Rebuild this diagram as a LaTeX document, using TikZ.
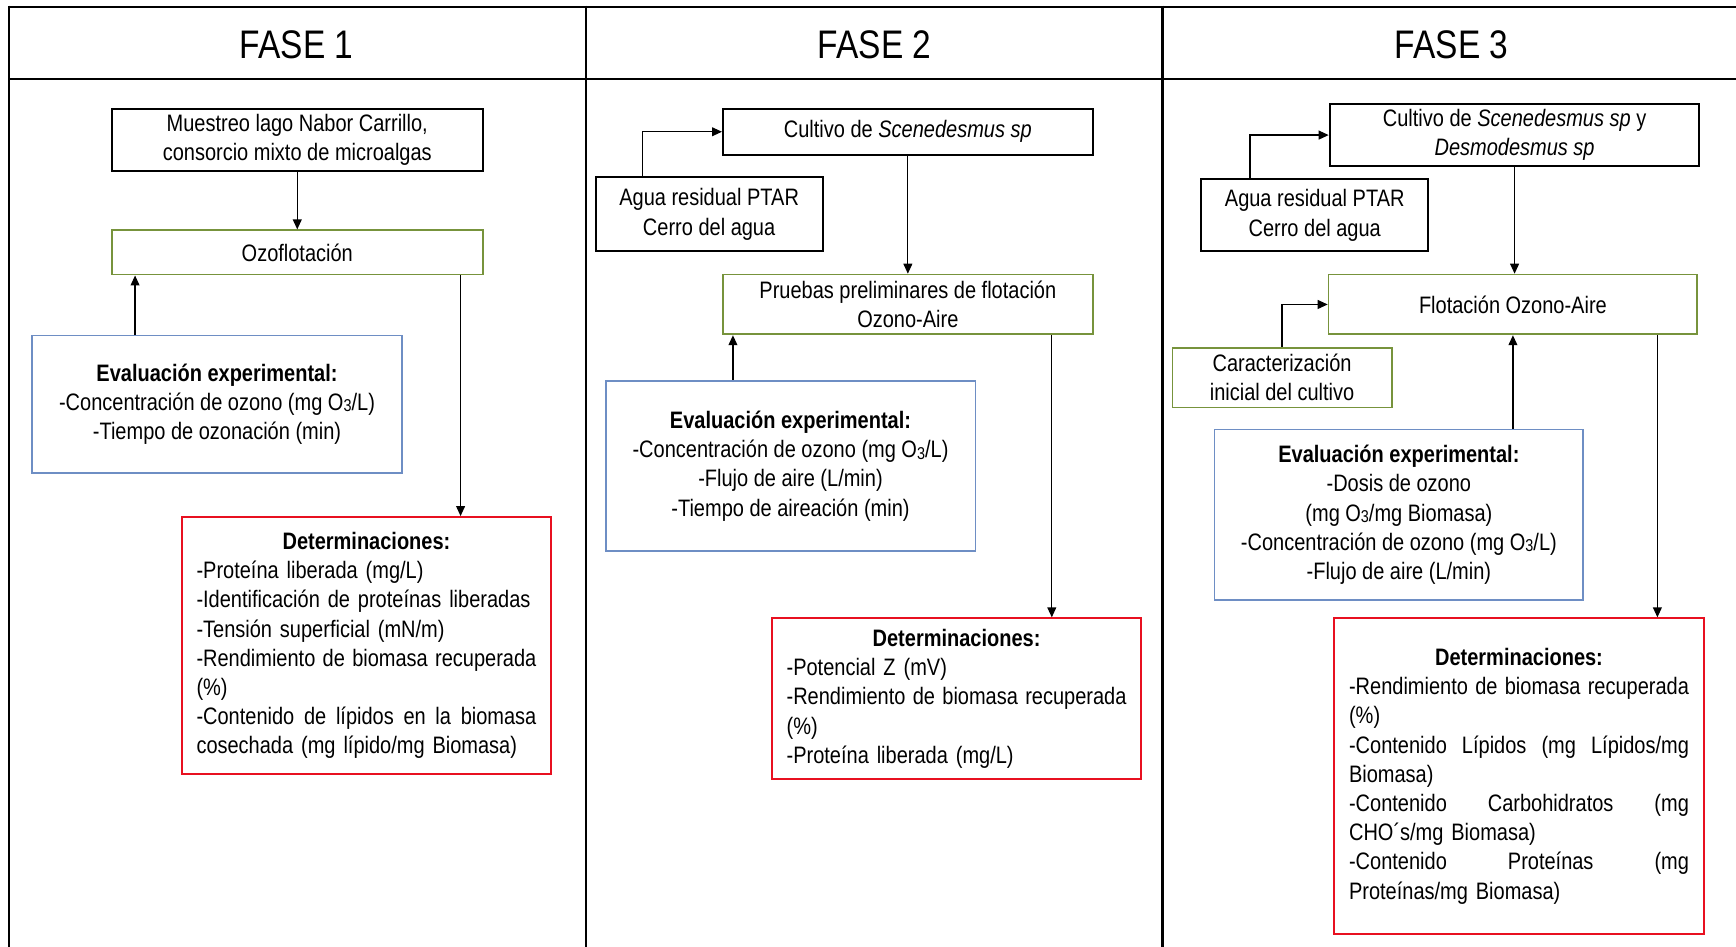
\documentclass[tikz,border=0pt]{standalone}
\usepackage{fontspec}
\setmainfont{Liberation Sans}[FakeStretch=0.84]
\usetikzlibrary{arrows.meta}

\definecolor{boxgreen}{RGB}{119,147,60}
\definecolor{boxblue}{RGB}{110,142,196}
\definecolor{boxred}{RGB}{232,16,32}

% ozone formula with a small, slightly lowered 3
\newcommand\Othree{O\raisebox{-0.06em}{\scalebox{0.72}{3}}}
% a line spread to the full text width (words separated by \hfill) / a centred line
\newcommand\jline[1]{\leavevmode\hbox to \linewidth{#1}}
\newcommand\ctrline[1]{\makebox[\linewidth][c]{#1}}

\begin{document}
\begin{tikzpicture}[x=1pt,y=-1pt,
  every node/.style={font=\fontsize{21.5}{26.4}\selectfont, inner sep=0pt},
  frame/.style={line width=2pt, black},
  head/.style={font=\fontsize{36}{40}\selectfont},
  blackbox/.style={draw=black, line width=1.8pt, align=center, fill=white},
  greenbox/.style={draw=boxgreen, line width=1.6pt, align=center, fill=white},
  bluebox/.style={draw=boxblue, line width=1.6pt, align=center, fill=white},
  redbox/.style={draw=boxred, line width=1.8pt, align=left, fill=white},
  arr/.style={line width=1.1pt, -{Triangle[length=9pt,width=8pt]}}
]
\useasboundingbox (0,0) rectangle (1568,855);
\fill[white] (0,0) rectangle (1568,855);

% table grid
\draw[frame] (8,6) -- (1570,6);
\draw[frame] (8,71) -- (1570,71);
\draw[frame] (8,5) -- (8,860);
\draw[frame] (529,5) -- (529,860);
\draw[frame] (1050,5) -- (1050,860);

\node[head] (h1) at (268,40) {FASE 1};
\node[head] (h2) at (790,40) {FASE 2};
\node[head] (h3) at (1311,40) {FASE 3};

% ---------------- FASE 1 ----------------
\node[blackbox, minimum width=335pt, minimum height=56pt] (m1) at (268.5,126)
  {Muestreo lago Nabor Carrillo,\\consorcio mixto de microalgas};
\node[greenbox, minimum width=335pt, minimum height=40pt] (oz1) at (268.5,228)
  {Ozoflotación};
\node[bluebox, minimum width=334pt, minimum height=124pt] (ev1) at (196,365)
  {\textbf{Evaluación experimental:}\\
   -Concentración de ozono (mg \Othree/L)\\
   -Tiempo de ozonación (min)};
\node[redbox, minimum width=334pt, minimum height=232pt, text width=307pt] (det1) at (331,583)
  {\ctrline{\bfseries Determinaciones:}\\
   -Proteína liberada (mg/L)\\
   -Identificación de proteínas liberadas\\
   -Tensión superficial (mN/m)\\
   \jline{-Rendimiento\hfill de\hfill biomasa\hfill recuperada}\\
   (\%)\\
   \jline{-Contenido\hfill de\hfill lípidos\hfill en\hfill la\hfill biomasa}\\
   cosechada (mg lípido/mg Biomasa)};

\draw[arr] (m1.south) -- (oz1.north);
\draw[arr] ([xshift=-74pt]ev1.north) -- ([xshift=-74pt]ev1.north |- oz1.south);
\draw[arr] ([xshift=85pt]det1.north |- oz1.south) -- ([xshift=85pt]det1.north);

% ---------------- FASE 2 ----------------
\node[blackbox, minimum width=334pt, minimum height=42pt] (cu2) at (820,119)
  {Cultivo de \textit{Scenedesmus sp}};
\node[blackbox, minimum width=205pt, minimum height=67pt] (ag2) at (640.5,193.5)
  {Agua residual PTAR\\Cerro del agua};
\node[greenbox, minimum width=334pt, minimum height=54pt] (pr2) at (820,275)
  {Pruebas preliminares de flotación\\Ozono-Aire};
\node[bluebox, minimum width=334pt, minimum height=154pt] (ev2) at (714,421)
  {\textbf{Evaluación experimental:}\\
   -Concentración de ozono (mg \Othree/L)\\
   -Flujo de aire (L/min)\\
   -Tiempo de aireación (min)};
\node[redbox, minimum width=334pt, minimum height=145pt, text width=307pt] (det2) at (864,631)
  {\ctrline{\bfseries Determinaciones:}\\
   -Potencial Z (mV)\\
   \jline{-Rendimiento\hfill de\hfill biomasa\hfill recuperada}\\
   (\%)\\
   -Proteína liberada (mg/L)};

\draw[arr] ([xshift=-60.5pt]ag2.north) |- (cu2.west);
\draw[arr] (cu2.south) -- (pr2.north);
\draw[arr] ([xshift=-52pt]ev2.north) -- ([xshift=-52pt]ev2.north |- pr2.south);
\draw[arr] ([xshift=86pt]det2.north |- pr2.south) -- ([xshift=86pt]det2.north);

% ---------------- FASE 3 ----------------
\node[blackbox, minimum width=334pt, minimum height=56pt] (cu3) at (1368,122)
  {Cultivo de \textit{Scenedesmus sp} y\\\textit{Desmodesmus sp}};
\node[blackbox, minimum width=205pt, minimum height=65pt] (ag3) at (1187.5,194.5)
  {Agua residual PTAR\\Cerro del agua};
\node[greenbox, minimum width=333pt, minimum height=54pt] (fl3) at (1366.5,275)
  {Flotación Ozono-Aire};
\node[greenbox, minimum width=198pt, minimum height=54pt] (ca3) at (1158,341)
  {Caracterización\\inicial del cultivo};
\node[bluebox, minimum width=333pt, minimum height=154pt] (ev3) at (1263.5,465)
  {\textbf{Evaluación experimental:}\\
   -Dosis de ozono\\
   (mg \Othree/mg Biomasa)\\
   -Concentración de ozono (mg \Othree/L)\\
   -Flujo de aire (L/min)};
\node[redbox, minimum width=334pt, minimum height=285pt, text width=307pt] (det3) at (1372,701)
  {\ctrline{\bfseries Determinaciones:}\\
   \jline{-Rendimiento\hfill de\hfill biomasa\hfill recuperada}\\
   (\%)\\
   \jline{-Contenido\hfill Lípidos\hfill (mg\hfill Lípidos/mg}\\
   Biomasa)\\
   \jline{-Contenido\hfill Carbohidratos\hfill (mg}\\
   CHO´s/mg Biomasa)\\
   \jline{-Contenido\hfill Proteínas\hfill (mg}\\
   Proteínas/mg Biomasa)};

\draw[arr] ([xshift=-58.5pt]ag3.north) |- (cu3.west);
\draw[arr] (cu3.south) -- (cu3.south |- fl3.north);
\draw[arr] (ca3.north) |- (fl3.west);
\draw[arr] (fl3.south |- ev3.north) -- (fl3.south);
\draw[arr] ([xshift=125pt]det3.north |- fl3.south) -- ([xshift=125pt]det3.north);
\end{tikzpicture}
\end{document}
